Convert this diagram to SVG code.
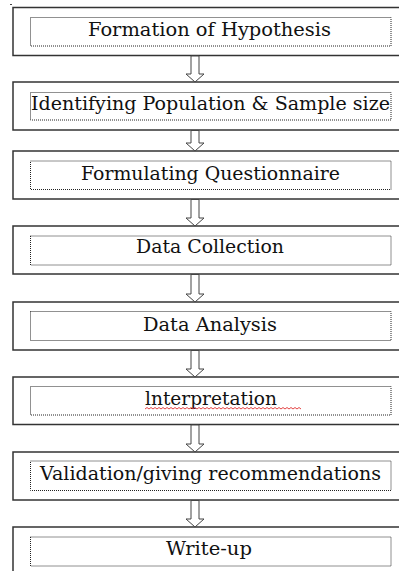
<svg xmlns="http://www.w3.org/2000/svg" width="399" height="571" viewBox="0 0 399 571">
<style>
.outer{fill:#fff;stroke:#333;stroke-width:1.5}
.inner{fill:none;stroke:#222;stroke-width:1;stroke-dasharray:1 1}
.lbl{font-family:'DejaVu Serif','Liberation Serif',serif;font-size:19px;fill:#111}
.arr{fill:#fff;stroke:#444;stroke-width:1}
</style>
<rect width="399" height="571" fill="#fff"/>
<line x1="10" y1="4.5" x2="12" y2="4.5" stroke="#444" stroke-width="1"/>
<g id="n1"><rect class="outer" x="13" y="7.5" width="400" height="48"/><rect class="inner" x="30.5" y="17.5" width="360.5" height="28.5"/><text class="lbl" x="88" y="36" textLength="243" lengthAdjust="spacingAndGlyphs">Formation of Hypothesis</text></g>
<g id="n2"><rect class="outer" x="13" y="82" width="400" height="48"/><rect class="inner" x="30.5" y="92.5" width="360.5" height="27.5"/><text class="lbl" x="31" y="110" textLength="359" lengthAdjust="spacingAndGlyphs">Identifying Population &amp; Sample size</text></g>
<g id="n3"><rect class="outer" x="13" y="151" width="400" height="48"/><rect class="inner" x="30.5" y="161" width="360.5" height="28.5"/><text class="lbl" x="81" y="180" textLength="259" lengthAdjust="spacingAndGlyphs">Formulating Questionnaire</text></g>
<g id="n4"><rect class="outer" x="13" y="226" width="400" height="48"/><rect class="inner" x="30.5" y="236" width="360.5" height="29"/><text class="lbl" x="136" y="253" textLength="148" lengthAdjust="spacingAndGlyphs">Data Collection</text></g>
<g id="n5"><rect class="outer" x="13" y="302" width="400" height="48"/><rect class="inner" x="30.5" y="311.5" width="360.5" height="29"/><text class="lbl" x="143" y="330.5" textLength="134" lengthAdjust="spacingAndGlyphs">Data Analysis</text></g>
<g id="n6"><rect class="outer" x="13" y="377" width="400" height="47.5"/><rect class="inner" x="30.5" y="386.5" width="360.5" height="28.5"/><text class="lbl" x="145" y="405" textLength="132" lengthAdjust="spacingAndGlyphs">lnterpretation</text><path d="M145 409 l2 -1.5 l2 1.5 l2 -1.5 l2 1.5 l2 -1.5 l2 1.5 l2 -1.5 l2 1.5 l2 -1.5 l2 1.5 l2 -1.5 l2 1.5 l2 -1.5 l2 1.5 l2 -1.5 l2 1.5 l2 -1.5 l2 1.5 l2 -1.5 l2 1.5 l2 -1.5 l2 1.5 l2 -1.5 l2 1.5 l2 -1.5 l2 1.5 l2 -1.5 l2 1.5 l2 -1.5 l2 1.5 l2 -1.5 l2 1.5 l2 -1.5 l2 1.5 l2 -1.5 l2 1.5 l2 -1.5 l2 1.5 l2 -1.5 l2 1.5 l2 -1.5 l2 1.5 l2 -1.5 l2 1.5 l2 -1.5 l2 1.5 l2 -1.5 l2 1.5 l2 -1.5 l2 1.5 l2 -1.5 l2 1.5 l2 -1.5 l2 1.5 l2 -1.5 l2 1.5 l2 -1.5 l2 1.5 l2 -1.5 l2 1.5 l2 -1.5 l2 1.5 l2 -1.5 l2 1.5 l2 -1.5 l2 1.5 l2 -1.5 l2 1.5 l2 -1.5 l2 1.5 l2 -1.5 l2 1.5 l2 -1.5 l2 1.5 l2 -1.5 l2 1.5 l2 -1.5 l2 1.5" fill="none" stroke="#e03030" stroke-width="0.9"/></g>
<g id="n7"><rect class="outer" x="13" y="452" width="400" height="48"/><rect class="inner" x="30.5" y="461" width="360.5" height="29.5"/><text class="lbl" x="40" y="480" textLength="341" lengthAdjust="spacingAndGlyphs">Validation/giving recommendations</text></g>
<g id="n8"><rect class="outer" x="13" y="527" width="400" height="60"/><rect class="inner" x="30.5" y="537" width="360.5" height="29"/><text class="lbl" x="166" y="555" textLength="86" lengthAdjust="spacingAndGlyphs">Write-up</text></g>
<g id="connectors">
<polygon class="arr" points="191,56 199,56 199,74 204,74 195,82 186,74 191,74"/>
<polygon class="arr" points="191,130.5 199,130.5 199,143 204,143 195,151 186,143 191,143"/>
<polygon class="arr" points="191,199.5 199,199.5 199,218 204,218 195,226 186,218 191,218"/>
<polygon class="arr" points="191,274.5 199,274.5 199,294 204,294 195,302 186,294 191,294"/>
<polygon class="arr" points="191,350.5 199,350.5 199,369 204,369 195,377 186,369 191,369"/>
<polygon class="arr" points="191,425 199,425 199,444 204,444 195,452 186,444 191,444"/>
<polygon class="arr" points="191,500.5 199,500.5 199,519 204,519 195,527 186,519 191,519"/>
</g>
</svg>
